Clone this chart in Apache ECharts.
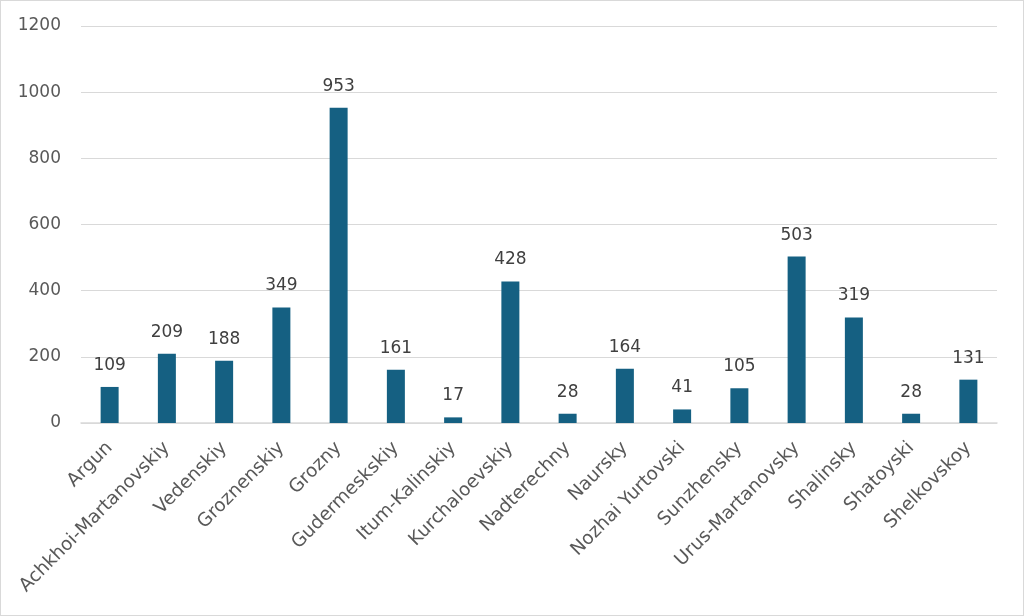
<!DOCTYPE html>
<html>
<head>
<meta charset="utf-8">
<script src="https://cdn.jsdelivr.net/npm/echarts@6/dist/echarts.min.js"></script>
<style>
  html, body { margin: 0; padding: 0; background: #fff; }
  #chart { width: 1022px; height: 614px; border: 1px solid #d9d9d9; }
</style>
</head>
<body>
<div id="chart"></div>
<script>
// districts and values
var districts = ['Argun', 'Achkhoi-Martanovskiy', 'Vedenskiy', 'Groznenskiy', 'Grozny',
    'Gudermeskskiy', 'Itum-Kalinskiy', 'Kurchaloevskiy', 'Nadterechny', 'Naursky',
    'Nozhai Yurtovski', 'Sunzhensky', 'Urus-Martanovsky', 'Shalinsky', 'Shatoyski', 'Shelkovskoy'];
var counts = [109, 209, 188, 349, 953, 161, 17, 428, 28, 164, 41, 105, 503, 319, 28, 131];
var yTicks = [0, 1200, 200]; // min, max, step

var chart = echarts.init(document.getElementById('chart'));
chart.setOption({
    animation: false,
    grid: { left: 80, right: 26, top: 25, bottom: 192 },
    xAxis: {
        type: 'category',
        data: districts,
        axisLine: { lineStyle: { color: '#d9d9d9', width: 1.5 } },
        axisTick: { show: false },
        axisLabel: {
            rotate: 45, interval: 0, margin: 22,
            color: '#595959', fontSize: 18.5, fontFamily: 'DejaVu Sans'
        }
    },
    yAxis: {
        type: 'value',
        min: yTicks[0], max: yTicks[1], interval: yTicks[2],
        axisLine: { show: false },
        axisTick: { show: false },
        axisLabel: {
            color: '#595959', fontSize: 17, margin: 20, fontFamily: 'DejaVu Sans',
            formatter: function (v) { return String(v); }
        },
        splitLine: { lineStyle: { color: '#d9d9d9', width: 1 } }
    },
    series: [{
        type: 'bar',
        data: counts,
        barWidth: 18,
        itemStyle: { color: '#156082' },
        label: {
            show: true, position: 'top', distance: 13,
            color: '#404040', fontSize: 17, fontFamily: 'DejaVu Sans'
        }
    }]
});
</script>
</body>
</html>
